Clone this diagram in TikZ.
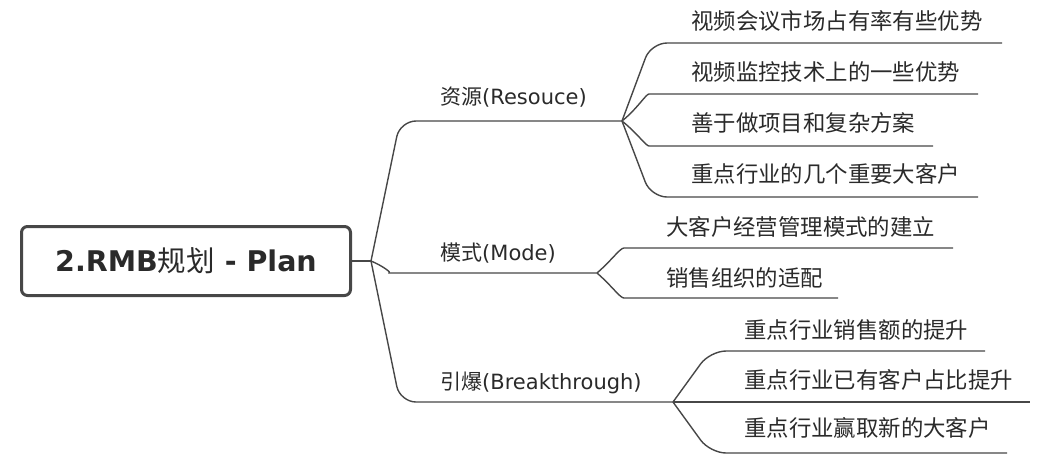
\documentclass[tikz,border=0pt]{standalone}
\usepackage{fontspec}
\setmainfont{DejaVu Sans}
\newfontfamily\cjk{Noto Sans CJK SC}
\definecolor{txt}{HTML}{2A2A2A}
\definecolor{ln}{HTML}{474747}
\begin{document}
\begin{tikzpicture}[x=1pt,y=-1pt,
  conn/.style={draw=ln,line width=1.4pt,rounded corners=16pt},
  leaf/.style={anchor=west,inner sep=0pt,text=txt,font=\cjk\fontsize{22.4}{24}\selectfont},
  branch/.style={anchor=west,inner sep=0pt,text=txt,font=\fontsize{21}{24}\selectfont},
  rootbox/.style={draw=ln,line width=3pt,rounded corners=6pt,minimum width=329pt,minimum height=69pt,inner sep=0pt,text=txt,font=\bfseries\fontsize{28.5}{32}\selectfont}]
\useasboundingbox (0,0) rectangle (1039,467);

% root
\node[rootbox] (root) at (186,261) {2.RMB{\cjk\mdseries 规划} - Plan};

% forks and corners
\coordinate (rf) at (371,261);
\coordinate (b1c) at (400,121);
\coordinate (b1e) at (622,121);
\coordinate (b2s) at (405,273);
\coordinate (b2e) at (597,273);
\coordinate (b3c) at (400,402);
\coordinate (b3e) at (673,402);

% branch texts
\node[branch] (t1) at (440,97) {{\cjk 资源}(Resouce)};
\node[branch] (t2) at (440,253) {{\cjk 模式}(Mode)};
\node[branch] (t3) at (440,383) {{\cjk 引爆}(Breakthrough)};

% root connectors
\draw[conn] (root.east) -- (rf);
\draw[conn] (rf) -- (b1c) -- (b1e);
\draw[conn] (rf) .. controls (383,266) and (392,273) .. (b2s) -- (b2e);
\draw[conn] (rf) -- (b3c) -- (b3e);

% resource children
\coordinate (r1c) at (651,43);  \coordinate (r1e) at (1002,43);
\coordinate (r2s) at (665,94);  \coordinate (r2e) at (978,94);
\coordinate (r3s) at (665,146); \coordinate (r3e) at (933,146);
\coordinate (r4c) at (651,197); \coordinate (r4e) at (978,197);
\draw[conn] (b1e) -- (r1c) -- (r1e);
\draw[conn] (b1e) .. controls (637,109) and (646,94) .. (r2s) -- (r2e);
\draw[conn] (b1e) .. controls (637,133) and (646,146) .. (r3s) -- (r3e);
\draw[conn] (b1e) -- (r4c) -- (r4e);
\node[leaf] (l1) at (691,21) {视频会议市场占有率有些优势};
\node[leaf] (l2) at (691,72) {视频监控技术上的一些优势};
\node[leaf] (l3) at (691,123) {善于做项目和复杂方案};
\node[leaf] (l4) at (691,174) {重点行业的几个重要大客户};

% mode children
\coordinate (m1s) at (640,248); \coordinate (m1e) at (953,248);
\coordinate (m2s) at (640,298); \coordinate (m2e) at (838,298);
\draw[conn] (b2e) .. controls (612,260) and (620,248) .. (m1s) -- (m1e);
\draw[conn] (b2e) .. controls (612,286) and (620,298) .. (m2s) -- (m2e);
\node[leaf] (l5) at (666,227) {大客户经营管理模式的建立};
\node[leaf] (l6) at (666,278) {销售组织的适配};

% breakthrough children
\coordinate (k1c) at (710,351); \coordinate (k1e) at (985,351);
\coordinate (k2e) at (1030,402);
\coordinate (k3c) at (710,453); \coordinate (k3e) at (1007,453);
\draw[conn] (b3e) -- (k1c) -- (k1e);
\draw[conn] (b3e) -- (k2e);
\draw[conn] (b3e) -- (k3c) -- (k3e);
\node[leaf] (l7) at (744,330) {重点行业销售额的提升};
\node[leaf] (l8) at (744,380) {重点行业已有客户占比提升};
\node[leaf] (l9) at (744,428) {重点行业赢取新的大客户};
\end{tikzpicture}
\end{document}
